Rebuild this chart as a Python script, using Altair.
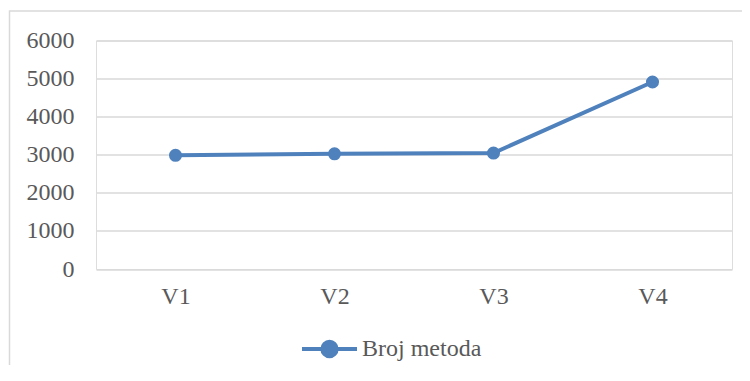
import altair as alt
import pandas as pd

categories = ["V1", "V2", "V3", "V4"]
values = [2985, 3025, 3045, 4910]
series_name = "Broj metoda"
y_ticks = [0, 1000, 2000, 3000, 4000, 5000, 6000]

df = pd.DataFrame({"cat": categories, "val": values, "series": [series_name] * len(categories)})

BLUE = "#4f81bd"
FONT = "Liberation Serif"
FS = 24
W, H = 636, 228.5

legend_symbol = (
    "M-1,0 H1 "
    "M-0.26,0 A0.26,0.26 0 1,0 0.26,0 A0.26,0.26 0 1,0 -0.26,0 Z"
)

x_enc = alt.X("cat:O", sort=categories,
              scale=alt.Scale(type="point", padding=0.5),
              axis=alt.Axis(title=None, labelAngle=0, domain=False, ticks=False,
                            grid=False, labelFont=FONT, labelFontSize=FS,
                            labelColor="#595959", labelPadding=15))
y_enc = alt.Y("val:Q", scale=alt.Scale(domain=[0, 6000], nice=False, zero=True),
              axis=alt.Axis(title=None, values=y_ticks, tickCount=7, format="d",
                            labelOverlap=False, domain=False, ticks=False,
                            grid=True, gridColor="#d9d9d9", gridWidth=1.5,
                            labelFont=FONT, labelFontSize=FS, labelColor="#595959",
                            labelPadding=22))

base = alt.Chart(df).encode(x=x_enc, y=y_enc)

border = alt.Chart(pd.DataFrame({"k": [0]})).mark_rect(
    fill=None, stroke="#d9d9d9", strokeWidth=1.5
).encode(
    x=alt.value(-86.5), x2=alt.value(W + 40),
    y=alt.value(-29.5), y2=alt.value(H + 130),
)

line = base.mark_line(strokeWidth=4, color=BLUE).encode(
    color=alt.Color("series:N",
                    scale=alt.Scale(range=[BLUE]),
                    legend=alt.Legend(title=None, orient="none", legendX=204, legendY=279,
                                      symbolType=legend_symbol, symbolSize=3025,
                                      symbolStrokeWidth=4, symbolFillColor=BLUE,
                                      symbolStrokeColor=BLUE,
                                      labelFont=FONT, labelFontSize=FS,
                                      labelColor="#595959", labelOffset=3)),
)

points = base.mark_circle(size=170, opacity=1, color=BLUE)

chart = alt.layer(border, line, points).properties(
    width=W, height=H,
    autosize=alt.AutoSizeParams(type="none"),
    padding={"left": 88, "top": 32.5, "right": 10, "bottom": 96},
).configure_view(stroke=None).configure(background="white")

chart.save("out.html", embed_options={"renderer": "svg", "actions": False})
